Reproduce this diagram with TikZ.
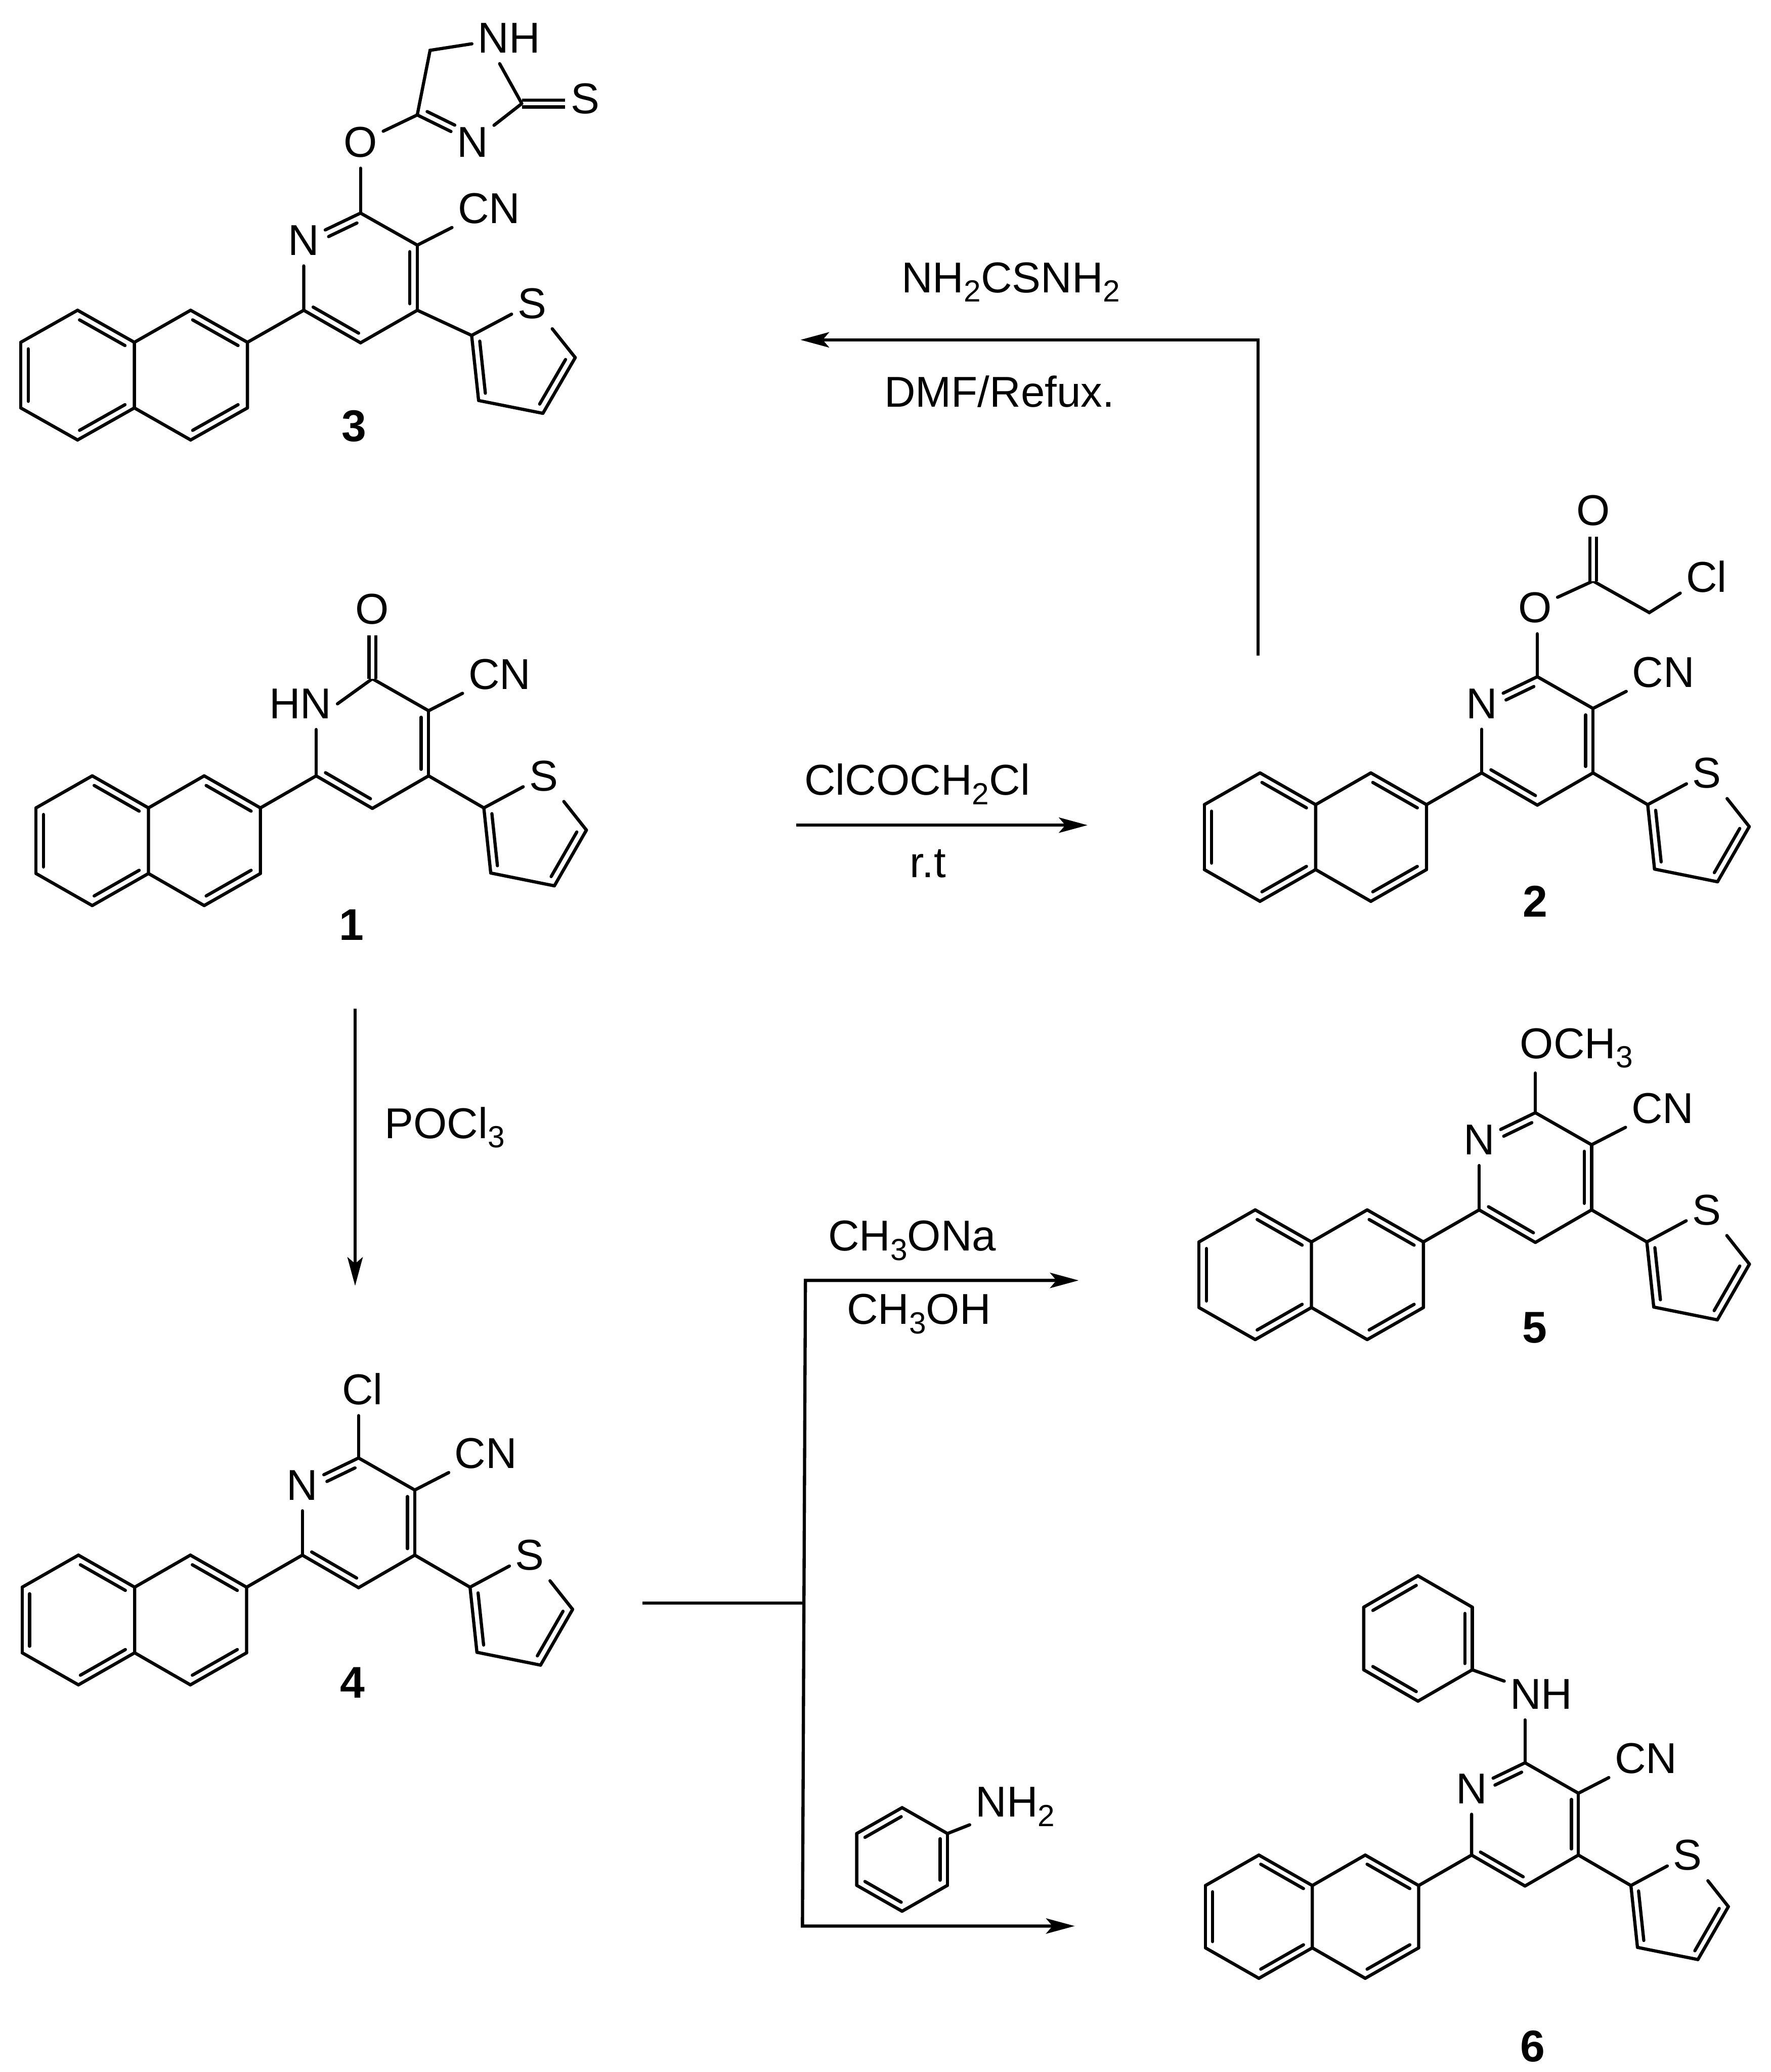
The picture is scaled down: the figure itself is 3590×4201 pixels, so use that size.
\documentclass[tikz,border=0pt]{standalone}
\usepackage{fontspec}
\setmainfont{Liberation Sans}
\usetikzlibrary{arrows.meta,calc}

\tikzset{
  bond/.style={line width=0.65pt,line cap=round},
  dblbond/.style={line width=0.65pt,double,double distance=0.7pt},
  rxn/.style={line width=0.65pt,-{Stealth[length=5.8pt,width=3.1pt,inset=1.3pt]}},
  rxnline/.style={line width=0.65pt},
  atom/.style={inner xsep=1pt,inner ysep=2pt,font=\fontsize{8.75}{11}\selectfont},
  reagent/.style={anchor=base west,inner sep=0pt,font=\fontsize{8.75}{11}\selectfont},
  cmpd/.style={inner sep=0pt,anchor=base,font=\fontsize{9}{11}\selectfont\bfseries},
}
\newcommand{\subnum}[1]{\raisebox{-1.9pt}{\fontsize{6.2}{7}\selectfont #1}}
% ring double bond, inner line on the right hand going from a to b
\newcommand{\dbond}[3][.1]{%
  \draw[bond] (#2) -- (#3);
  \draw[bond] ($(#2)!#1!(#3)!1.5pt!90:(#3)$) -- ($(#2)!1-#1!(#3)!1.5pt!90:(#3)$);
}
% same, first end is an atom label
\newcommand{\nbond}[2]{%
  \draw[bond] (#1) -- (#2);
  \draw[bond] ($(#1)!.38!(#2)!1.5pt!90:(#2)$) -- ($(#1)!.88!(#2)!1.5pt!90:(#2)$);
}
% naphthyl and the pyridine carbons, origin on C2
\newcommand{\core}[1]{%
  \coordinate (#1c2) at (0,0);
  \coordinate (#1c3) at (114,65);
  \coordinate (#1c4) at (114,197);
  \coordinate (#1c5) at (0,263);
  \coordinate (#1c6) at (-114,197);
  \coordinate (#1a1) at (-227,262);
  \coordinate (#1a2) at (-227,395);
  \coordinate (#1a3) at (-341,460);
  \coordinate (#1a4) at (-454,395);
  \coordinate (#1a5) at (-454,262);
  \coordinate (#1a6) at (-341,197);
  \coordinate (#1a7) at (-568,460);
  \coordinate (#1a8) at (-682,395);
  \coordinate (#1a9) at (-682,262);
  \coordinate (#1a10) at (-568,197);
  \draw[bond] (#1c2) -- (#1c3) (#1c4) -- (#1c5) (#1c6) -- (#1a1);
  \dbond{#1c3}{#1c4}
  \dbond{#1c5}{#1c6}
  \draw[bond] (#1a1) -- (#1a2) (#1a3) -- (#1a4) -- (#1a5) -- (#1a6) (#1a7) -- (#1a8) (#1a9) -- (#1a10);
  \dbond{#1a6}{#1a1}
  \dbond{#1a2}{#1a3}
  \dbond{#1a10}{#1a5}
  \dbond{#1a4}{#1a7}
  \dbond{#1a8}{#1a9}
  \node (#1cn) [atom] at (258,-9) {CN};
  \draw[bond] (#1c3) -- (#1cn);
}
% thienyl on C4
\newcommand{\thienyl}[3]{%
  \begin{scope}[shift={(#2,#3)}]
  \coordinate (#1t2) at (226,262);
  \node (#1ts) [atom] at (347,197) {S};
  \coordinate (#1t5) at (434,307);
  \coordinate (#1t4) at (369,420);
  \coordinate (#1t3) at (240,394);
  \end{scope}
  \draw[bond] (#1c4) -- (#1t2) -- (#1ts) -- (#1t5) (#1t4) -- (#1t3);
  \dbond{#1t5}{#1t4}
  \dbond{#1t3}{#1t2}
}
% benzene ring, centre and half sizes
\newcommand{\phring}[5]{%
  \begin{scope}[shift={(#2,#3)},xscale=#4,yscale=#5]
  \coordinate (#1p1) at (0,-1);
  \coordinate (#1p2) at (1,-.5);
  \coordinate (#1p3) at (1,.5);
  \coordinate (#1p4) at (0,1);
  \coordinate (#1p5) at (-1,.5);
  \coordinate (#1p6) at (-1,-.5);
  \end{scope}
  \draw[bond] (#1p1) -- (#1p2) (#1p3) -- (#1p4) (#1p5) -- (#1p6);
  \dbond{#1p2}{#1p3}
  \dbond{#1p4}{#1p5}
  \dbond{#1p6}{#1p1}
}

\begin{document}
\begin{tikzpicture}[x=0.1pt,y=0.1pt,yscale=-1]
    \useasboundingbox (0,0) rectangle (3590,4201);

    %Compound 1
    \begin{scope}[shift={(755,1376)}]
      \core{ma}
      \thienyl{ma}{0}{0}
      \node (mahn) [atom] at (-146,51) {HN};
      \draw[bond] (mac6) -- (mahn.south -| mac6);
      \draw[bond] (mac2) -- (mahn.east);
      \node (mao) [atom] at (0,-141) {O};
      \draw[dblbond] (mac2) -- (mao);
    \end{scope}
    \node (lblone) [cmpd] at (713,1906) {1};

    %Compound 2
    \begin{scope}[shift={(3117,1372)},scale=.99]
      \core{mb}
      \thienyl{mb}{0}{0}
      \node (mbn) [atom] at (-114,55) {N};
      \draw[bond] (mbc6) -- (mbn);
      \nbond{mbn}{mbc2}
    \end{scope}
    \node (mbo) [atom] at (3112,1232) {O};
    \coordinate (mbe) at (3230,1178);
    \node (mbdo) [atom] at (3230,1035) {O};
    \coordinate (mbch) at (3344,1242);
    \node (mbcl) [atom] at (3460,1169) {Cl};
    \draw[bond] (mbc2) -- (mbo.south -| mbc2);
    \draw[bond] (mbo) -- (mbe) -- (mbch) -- (mbcl);
    \draw[dblbond] (mbe) -- (mbdo);
    \node (lbltwo) [cmpd] at (3113,1859) {2};

    %Compound 3
    \begin{scope}[shift={(731,432)},xscale=1.01]
      \core{mc}
      \thienyl{mc}{-3}{-14}
      \node (mcn) [atom] at (-114,55) {N};
      \draw[bond] (mcc6) -- (mcn);
      \nbond{mcn}{mcc2}
    \end{scope}
    \node (mco) [atom] at (731,288) {O};
    \coordinate (mci) at (846,233);
    \node (mcin) [atom] at (958,288) {N};
    \coordinate (mcj) at (1058,210);
    \node (mcs) [atom] at (1187,200) {S};
    \node (mcnh) [atom] at (1032,77) {NH};
    \coordinate (mcch) at (872,102);
    \draw[bond] (mcc2) -- (mco);
    \draw[bond] (mco) -- (mci);
    \nbond{mcin}{mci}
    \draw[bond] (mcin) -- (mcj);
    \draw[dblbond] (mcj) -- (mcs.west |- mcj);
    \draw[bond] (mcj) -- (mcnh.250);
    \draw[bond] (mcnh) -- (mcch) -- (mci);
    \node (lblthree) [cmpd] at (718,895) {3};

    %Compound 4
    \begin{scope}[shift={(727,2956)}]
      \core{md}
      \thienyl{md}{0}{0}
      \node (mdn) [atom] at (-114,55) {N};
      \draw[bond] (mdc6) -- (mdn);
      \nbond{mdn}{mdc2}
      \node (mdcl) [atom] at (8,-140) {Cl};
      \draw[bond] (mdc2) -- (mdcl.south -| mdc2);
    \end{scope}
    \node (lblfour) [cmpd] at (715,3442) {4};

    %Compound 5
    \begin{scope}[shift={(3113,2256)}]
      \core{me}
      \thienyl{me}{0}{0}
      \node (men) [atom] at (-114,55) {N};
      \draw[bond] (mec6) -- (men);
      \nbond{men}{mec2}
    \end{scope}
    \node (meo) [atom,anchor=base west,inner ysep=0.8pt] at (3070,2146) {OCH\subnum{3}};
    \draw[bond] (mec2) -- (meo.south -| mec2);
    \node (lblfive) [cmpd] at (3112,2723) {5};

    %Compound 6
    \begin{scope}[shift={(3092,3574)},scale=.95]
      \core{mf}
      \thienyl{mf}{0}{0}
      \node (mfn) [atom] at (-114,55) {N};
      \draw[bond] (mfc6) -- (mfn);
      \nbond{mfn}{mfc2}
    \end{scope}
    \node (mfnh) [atom] at (3125,3435) {NH};
    \draw[bond] (mfc2) -- (mfnh.south -| mfc2);
    \phring{mf}{2875}{3322}{110}{127}
    \draw[bond] (mfp3) -- (mfnh);
    \node (lblsix) [cmpd] at (3108,4180) {6};

    %Straight Lines
    \coordinate (toptail) at (2551,1329);
    \coordinate (topbend) at (2551,689);
    \coordinate (tophead) at (1623,689);
    \draw[rxn] (toptail) -- (topbend) -- (tophead);

    \coordinate (acyltail) at (1614,1673);
    \coordinate (acylhead) at (2205,1673);
    \draw[rxn] (acyltail) -- (acylhead);

    \coordinate (poctail) at (720,2045);
    \coordinate (pochead) at (720,2607);
    \draw[rxn] (poctail) -- (pochead);

    \coordinate (forktail) at (1303,3250);
    \coordinate (forkmid) at (1630,3250);
    \coordinate (forktop) at (1633,2596);
    \coordinate (forklow) at (1627,3905);
    \coordinate (meohead) at (2187,2596);
    \coordinate (anihead) at (2179,3905);
    \draw[rxnline] (forktail) -- (forkmid);
    \draw[rxn] (forkmid) -- (forktop) -- (meohead);
    \draw[rxn] (forkmid) -- (forklow) -- (anihead);

    %Aniline over the lower arrow
    \phring{an}{1829}{3770}{92}{105}
    \node (annh) [atom,anchor=base west] at (1966,3684) {NH\subnum{2}};
    \draw[bond] (anp2) -- (annh);

    % Text Node
    \node (thio) [reagent] at (1826,593) {NH\subnum{2}CSNH\subnum{2}};
    % Text Node
    \node (dmf) [reagent] at (1791,825) {DMF/Refux.};
    % Text Node
    \node (chloro) [reagent] at (1629,1612) {ClCOCH\subnum{2}Cl};
    % Text Node
    \node (rt) [reagent] at (1843,1779) {r.t};
    % Text Node
    \node (pocl) [reagent] at (778,2308) {POCl\subnum{3}};
    % Text Node
    \node (meona) [reagent] at (1677,2536) {CH\subnum{3}ONa};
    % Text Node
    \node (meoh) [reagent] at (1715,2685) {CH\subnum{3}OH};
\end{tikzpicture}
\end{document}
